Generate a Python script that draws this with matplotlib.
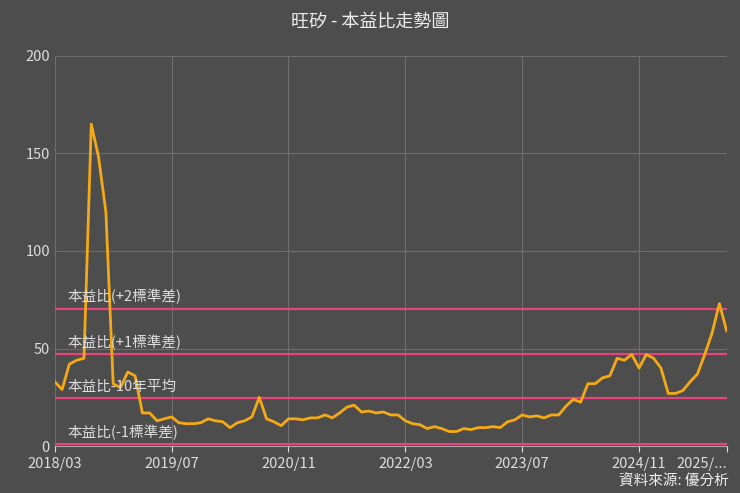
import matplotlib
matplotlib.use('Agg')
import matplotlib.pyplot as plt
import numpy as np

plt.rcParams['font.family'] = ['Noto Sans CJK TC', 'DejaVu Sans']

# 月度本益比 2018/03 - 2025/11
pe = [33, 29, 42, 44, 45, 165, 148, 120, 32, 30,
      38, 36, 17, 17, 13, 14, 15, 12, 11.5, 11.5, 12, 14,
      13, 12.5, 9.5, 12, 13, 15, 25, 14, 12.5, 10.5, 14, 14,
      13.5, 14.5, 14.5, 16, 14.5, 17, 20, 21, 17.5, 18, 17, 17.5,
      16, 16, 13, 11.5, 11, 9, 10, 9, 7.5, 7.5, 9, 8.5,
      9.5, 9.5, 10, 9.5, 12.5, 13.5, 16, 15, 15.5, 14.5, 16, 16,
      20.5, 24, 22.5, 32, 32, 35, 36, 45, 44, 47, 40, 47,
      45, 40, 27, 27, 28.5, 33, 37, 47, 58, 73, 59]
band_names = ['本益比(+2標準差)', '本益比(+1標準差)', '本益比-10年平均', '本益比(-1標準差)']
band_vals = [70.5, 47, 24.5, 1]
tick_idx = [0, 16, 32, 48, 64, 80, 92]
tick_labels = ['2018/03', '2019/07', '2020/11', '2022/03', '2023/07', '2024/11', '2025/...']

bg = '#4d4d4d'
fig = plt.figure(figsize=(7.4, 4.93), dpi=100, facecolor=bg)
ax = fig.add_axes([0.074, 0.095, 0.908, 0.792], facecolor=bg)

x = np.arange(len(pe))
for name, v in zip(band_names, band_vals):
    ax.axhline(v, color='#e8437c', lw=1.6, zorder=2)
    ax.text(1.8, v + 2, name, color='#dddddd', fontsize=10.5, va='bottom', zorder=4)
ax.plot(x, pe, color='#f5a915', lw=2, zorder=3)

ax.set_xlim(0, len(pe) - 1)
ax.set_ylim(0, 200)
ax.set_yticks([0, 50, 100, 150, 200])
ax.set_xticks(tick_idx)
ax.set_xticklabels(tick_labels)
ax.get_xticklabels()[-1].set_horizontalalignment('right')
ax.grid(color='#6e6e6e', lw=0.8)
ax.tick_params(colors='#dddddd', labelsize=10.5, length=4)
ax.tick_params(axis='y', length=0)
for s in ['top', 'right', 'left']:
    ax.spines[s].set_visible(False)
ax.spines['bottom'].set_color('#aaaaaa')

fig.text(0.5, 0.955, '旺矽 - 本益比走勢圖', color='#eeeeee', fontsize=13, ha='center', va='center')
fig.text(0.985, 0.008, '資料來源: 優分析', color='#eeeeee', fontsize=10.5, ha='right', va='bottom')

fig.savefig('out.png', facecolor=bg)
plt.close()
